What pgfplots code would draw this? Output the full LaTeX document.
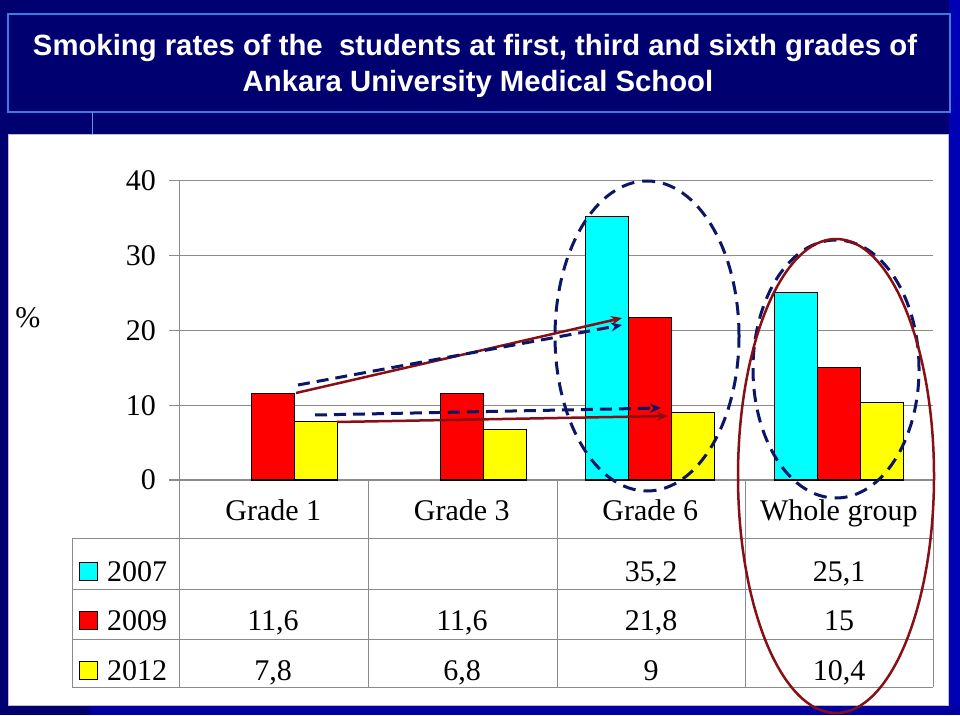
\documentclass[border=0pt]{standalone}
\usepackage{pgfplots}
\pgfplotsset{compat=1.18}
\usepackage{fontspec}
\setmainfont{Liberation Serif}
\newfontfamily\titlefont{Liberation Sans}
\usetikzlibrary{arrows.meta}
\definecolor{bgnavy}{HTML}{000070}
\definecolor{sideblue}{HTML}{0000B4}
\definecolor{boxblue}{HTML}{3C7BE0}
\definecolor{gridgray}{HTML}{8C8C8C}
\definecolor{annnavy}{HTML}{0C1666}
\definecolor{annred}{HTML}{881014}
\definecolor{barcyan}{HTML}{00FFFF}
\definecolor{barred}{HTML}{FF0000}
\definecolor{baryellow}{HTML}{FFFF00}
\newcommand{\bigf}{\fontsize{30}{36}\selectfont}
\begin{document}
\begin{tikzpicture}[x=1pt,y=1pt]
\useasboundingbox (0,0) rectangle (960,715);
\fill[bgnavy] (0,0) rectangle (960,715);
\fill[sideblue] (949,0) rectangle (960,715);
\fill[sideblue!70!bgnavy] (90,0) rectangle (960,10);
% title box
\draw[boxblue, line width=1.5pt] (8,701) rectangle (950,603);
\draw[boxblue!80, line width=1pt] (92,603) -- (92,580);
\node[anchor=base, text=white, inner sep=0pt, font=\titlefont\bfseries\fontsize{29.3}{36}\selectfont] at (475,659) {Smoking rates of the\ \ students at first, third and sixth grades of};
\node[anchor=base, text=white, inner sep=0pt, font=\titlefont\bfseries\fontsize{29.3}{36}\selectfont] at (478,623) {Ankara University Medical School};
% white chart area
\fill[white, draw=gray!50, line width=1pt] (8,580) rectangle (948,10);
\begin{axis}[
  at={(179pt,235pt)}, anchor=south west,
  scale only axis, width=754pt, height=299pt,
  ybar=0pt, bar width=43pt,
  xmin=-0.5, xmax=3.5, ymin=0, ymax=40,
  enlargelimits=false,
  xtick={0,1,2,3},
  xticklabels={Grade 1, Grade 3, Grade 6, Whole group},
  ytick={0,10,20,30,40},
  axis x line*=bottom, axis y line*=left,
  axis line style={-, draw=gridgray, line width=1pt},
  ymajorgrids, grid style={gridgray, line width=1pt},
  tick align=outside, major tick length=10pt,
  ytick style={gridgray, line width=1pt},
  xtick style={draw=none},
  /pgf/number format/assume math mode=true,
  ticklabel style={font=\bigf},
  yticklabel style={inner sep=0pt, xshift=-13pt},
  xticklabel style={anchor=base, inner sep=0pt, yshift=-30pt},
  ylabel={\%}, ylabel style={font=\bigf, rotate=-90, anchor=center, at={(axis description cs:-0.2003,0.542)}},
  clip=false,
]
\addplot[fill=barcyan, draw=black, line width=1pt] coordinates {(2,35.2) (3,25.1)};
\addplot[fill=barred, draw=black, line width=1pt] coordinates {(0,11.6) (1,11.6) (2,21.8) (3,15)};
\addplot[fill=baryellow, draw=black, line width=1pt] coordinates {(0,7.8) (1,6.8) (2,9) (3,10.4)};
\end{axis}
% data table
\begin{scope}[gridgray, line width=1pt]
\foreach \yy in {177,126,76,28} \draw (72,\yy) -- (933,\yy);
\draw (72,177) -- (72,28);
\draw (179,235) -- (179,28);
\foreach \xx in {368,557,745,933} \draw (\xx,235) -- (\xx,28);
\end{scope}
\begin{scope}[font=\bigf]
\filldraw[fill=barcyan, draw=black, line width=0.8pt] (79,135) rectangle (97,153);
\filldraw[fill=barred, draw=black, line width=0.8pt] (79,86) rectangle (97,104);
\filldraw[fill=baryellow, draw=black, line width=0.8pt] (79,36) rectangle (97,54);
\node[anchor=base west, inner sep=0pt] at (107,134) {2007};
\node[anchor=base west, inner sep=0pt] at (107,85) {2009};
\node[anchor=base west, inner sep=0pt] at (107,35) {2012};
\node[anchor=base, inner sep=0pt] at (651,134) {35,2};
\node[anchor=base, inner sep=0pt] at (839,134) {25,1};
\node[anchor=base, inner sep=0pt] at (273,85) {11,6};
\node[anchor=base, inner sep=0pt] at (462,85) {11,6};
\node[anchor=base, inner sep=0pt] at (651,85) {21,8};
\node[anchor=base, inner sep=0pt] at (839,85) {15};
\node[anchor=base, inner sep=0pt] at (273,35) {7,8};
\node[anchor=base, inner sep=0pt] at (462,35) {6,8};
\node[anchor=base, inner sep=0pt] at (651,35) {9};
\node[anchor=base, inner sep=0pt] at (839,35) {10,4};
\end{scope}
% annotations
\draw[annnavy, line width=3pt, dash pattern=on 13pt off 8pt] (647,379) ellipse [x radius=92pt, y radius=155pt];
\draw[annnavy, line width=3pt, dash pattern=on 13pt off 8pt] (836,346) ellipse [x radius=83pt, y radius=129pt];
\draw[annred, line width=2.5pt] (836,239) ellipse [x radius=98pt, y radius=237pt];
\draw[annred, line width=2.5pt, -{Stealth[length=11pt,width=9pt]}] (296,322) -- (622,397);
\draw[annnavy, line width=3pt, dash pattern=on 12pt off 7pt, -{Stealth[length=11pt,width=9pt]}] (298,330) -- (622,390);
\draw[annnavy, line width=3pt, dash pattern=on 12pt off 7pt, -{Stealth[length=11pt,width=9pt]}] (315,300) -- (661,307);
\draw[annred, line width=2.5pt, -{Stealth[length=11pt,width=9pt]}] (337,293) -- (668,299);
\end{tikzpicture}
\end{document}
